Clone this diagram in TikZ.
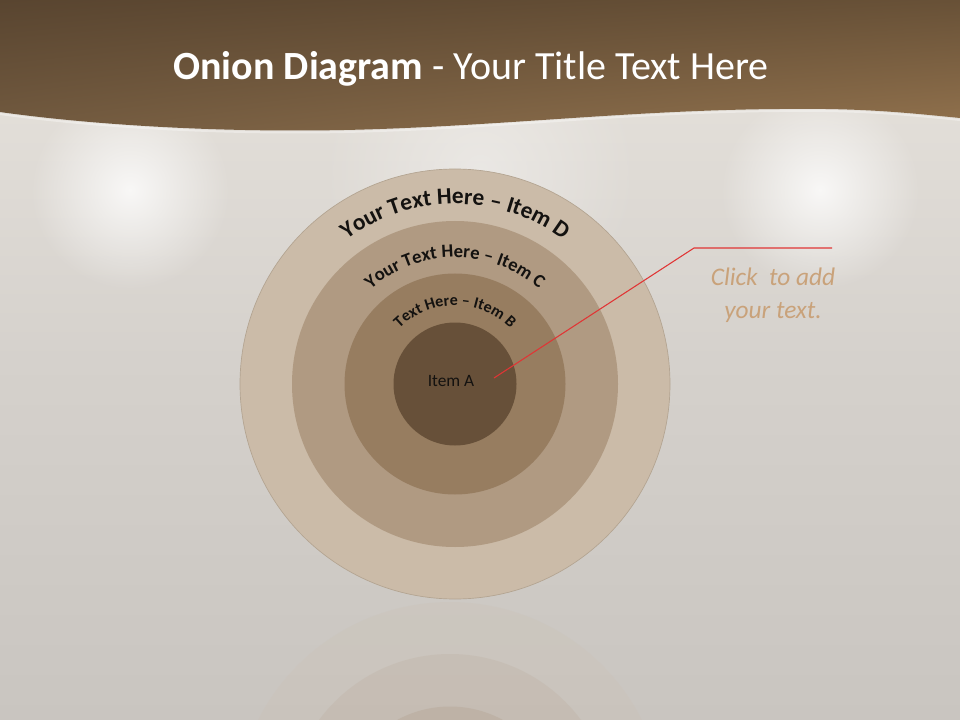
\documentclass[tikz,border=0pt]{standalone}
\usepackage{fontspec}
\setmainfont{Carlito}
\usetikzlibrary{decorations.text,fadings,shadings}
\definecolor{bgtop}{HTML}{E8E4DE}
\definecolor{bgmid}{HTML}{D5D1CC}
\definecolor{bgbot}{HTML}{C9C5C0}
\definecolor{hdrUL}{HTML}{594530}
\definecolor{hdrUR}{HTML}{685137}
\definecolor{hdrLL}{HTML}{735B40}
\definecolor{hdrLR}{HTML}{93734E}
\definecolor{ringD}{HTML}{CBBBA8}
\definecolor{ringC}{HTML}{B09A82}
\definecolor{ringB}{HTML}{977D60}
\definecolor{ringA}{HTML}{675039}
\definecolor{ringedge}{HTML}{B3A491}
\definecolor{calltext}{HTML}{C9A27A}
\definecolor{callline}{HTML}{E03535}
\definecolor{txtdark}{HTML}{141210}
\tikzfading[name=glowfade, inner color=transparent!0, outer color=transparent!100]
\begin{document}
\begin{tikzpicture}[x=0.75pt,y=-0.75pt,
  ring/.style={circle, inner sep=0pt, outer sep=0pt},
  refl/.style={circle, inner sep=0pt, outer sep=0pt, fill opacity=0.15},
  glow/.style={white, path fading=glowfade},
  arctext/.style={decorate, decoration={text along path, text align=center, text color=txtdark}},
  callout/.style={draw=callline, line width=0.8pt}]
\useasboundingbox (0,0) rectangle (960,720);
% background
\shade[top color=bgtop, bottom color=bgbot, middle color=bgmid] (0,0) rectangle (960,720);
\fill[glow, opacity=0.8] (130,190) circle (100);
\fill[glow, opacity=0.8] (820,190) circle (100);
\fill[glow, opacity=0.35] (480,170) circle (160);
% header band
\shade[upper left=hdrUL, upper right=hdrUR, lower left=hdrLL, lower right=hdrLR]
  (0,0) -- (960,0) -- (960,118)
  .. controls (900,112) and (860,108) .. (780,109)
  .. controls (640,110) and (520,124) .. (380,129)
  .. controls (240,134) and (100,126) .. (0,112) -- cycle;
\draw[white, opacity=0.35, line width=1.5pt]
  (960,120) .. controls (900,114) and (860,110) .. (780,111)
  .. controls (640,112) and (520,126) .. (380,131)
  .. controls (240,136) and (100,128) .. (0,114);
\node[text=white, font=\fontsize{30}{30}\selectfont] (title) at (471,69)
  {\textbf{Onion Diagram} - Your Title Text Here};
% reflection
\node[refl, fill=ringD, minimum size=322.5pt] (rD) at (450,817) {};
\node[refl, fill=ringC, minimum size=244.5pt] (rC) at (450,817) {};
\node[refl, fill=ringB, minimum size=165.75pt] (rB) at (450,817) {};
\node[refl, fill=ringA, minimum size=92.25pt] (rA) at (450,817) {};
% onion
\node[ring, fill=ringD, draw=ringedge, line width=0.5pt, minimum size=322.5pt] (D) at (455,384) {};
\node[ring, fill=ringC, minimum size=244.5pt] (C) at (455,384) {};
\node[ring, fill=ringB, minimum size=165.75pt] (B) at (455,384) {};
\node[ring, fill=ringA, minimum size=92.25pt] (A) at (455,384) {};
% curved texts
\path[arctext, decoration={text={|\fontsize{17.5}{17.5}\selectfont\bfseries|Your Text Here – Item D}}]
  (D.center) ++(-135pt,0) arc[start angle=180, end angle=0, radius=135pt];
\path[arctext, decoration={text={|\fontsize{14}{14}\selectfont\bfseries|Your Text Here – Item C}}]
  (C.center) ++(-95pt,0) arc[start angle=180, end angle=0, radius=95pt];
\path[arctext, decoration={text={|\fontsize{12}{12}\selectfont\bfseries|Text Here – Item B}}]
  (B.center) ++(-59pt,0) arc[start angle=180, end angle=0, radius=59pt];
\node[text=txtdark, font=\fontsize{13}{13}\selectfont] (ta) at (451,381) {Item A};
% callout
\coordinate (p0) at (494,378);
\coordinate (p1) at (694,248);
\coordinate (p2) at (832,248);
\draw[callout] (p0) -- (p1) -- (p2);
\node[align=center, text=calltext, font=\fontsize{19}{25}\selectfont\itshape] (call) at (773,295)
  {Click\ \ to add\\your text.};
\end{tikzpicture}
\end{document}
